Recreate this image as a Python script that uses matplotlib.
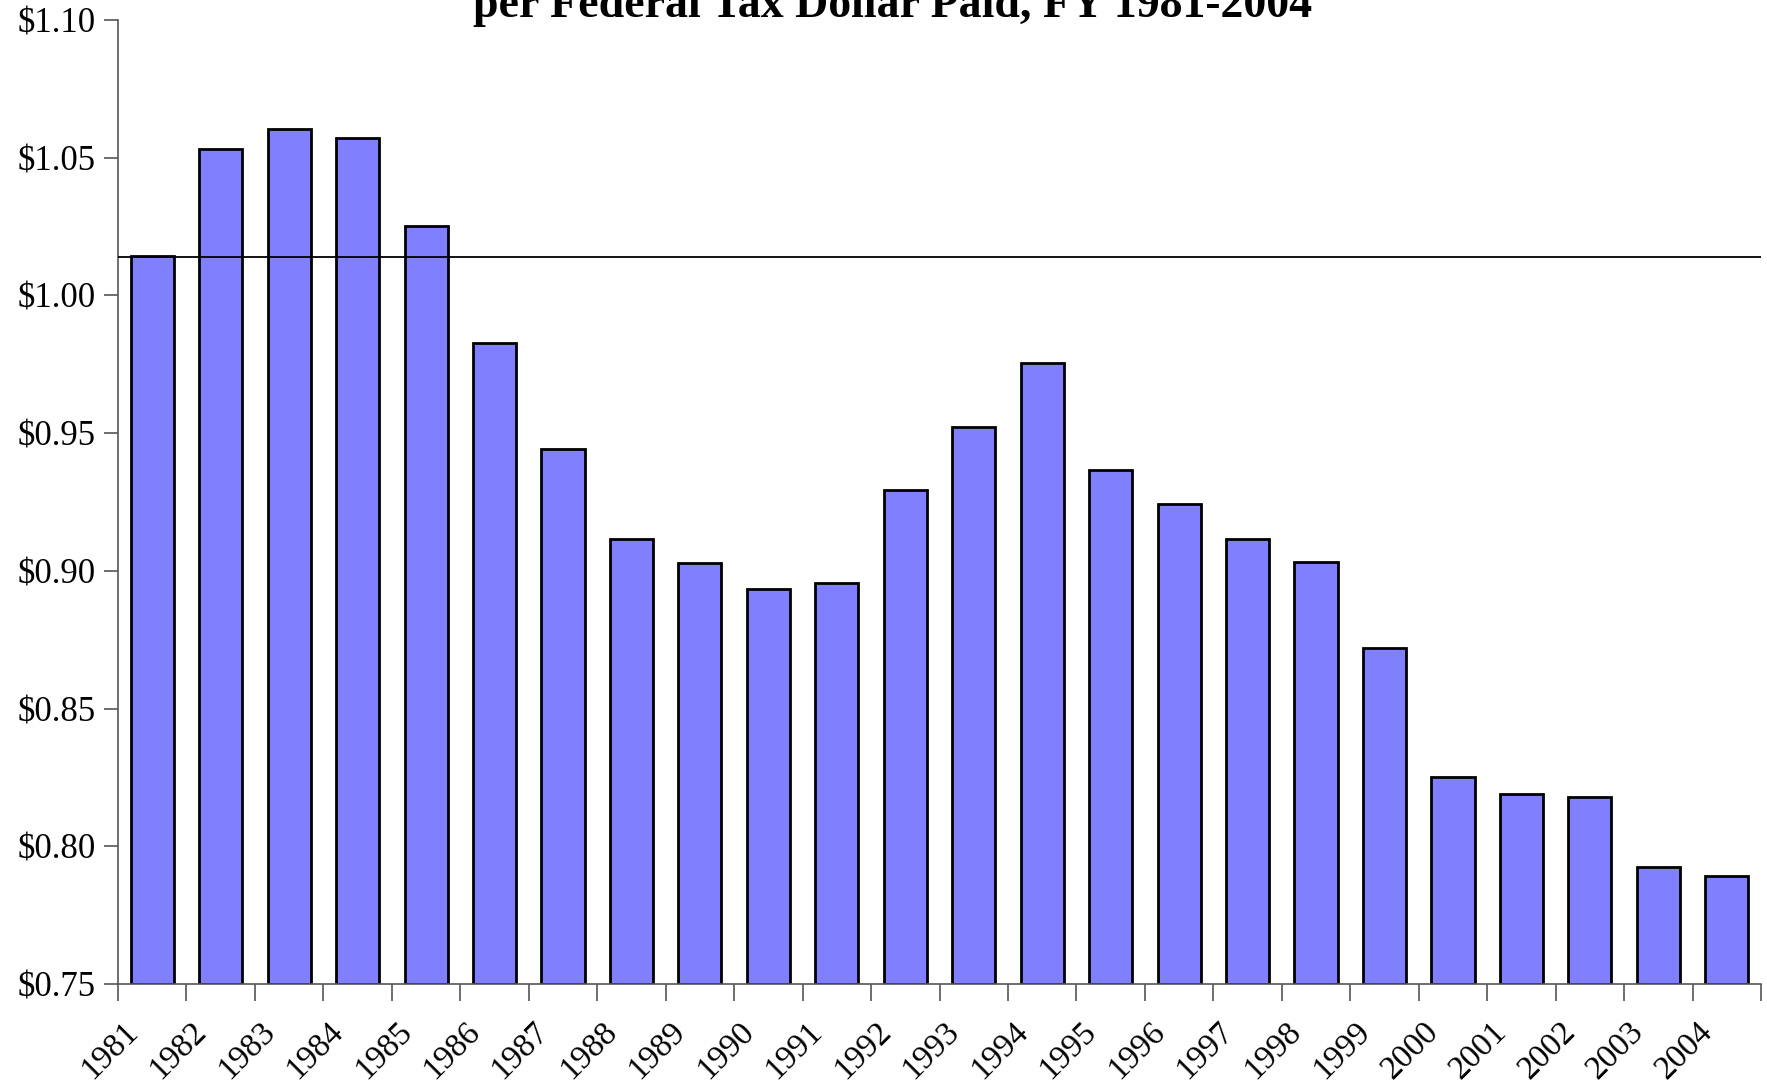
import matplotlib
matplotlib.use("Agg")
import matplotlib.pyplot as plt
import matplotlib.transforms as mtransforms
import numpy as np

years = ["1981", "1982", "1983", "1984", "1985", "1986", "1987", "1988", "1989", "1990",
         "1991", "1992", "1993", "1994", "1995", "1996", "1997", "1998", "1999", "2000",
         "2001", "2002", "2003", "2004"]
values = [1.0144, 1.0533, 1.0603, 1.0570, 1.0251, 0.9829, 0.9444, 0.9117, 0.9027, 0.8933,
          0.8957, 0.9293, 0.9522, 0.9756, 0.9367, 0.9244, 0.9117, 0.9031, 0.8720, 0.8253,
          0.8188, 0.8180, 0.7926, 0.7893]
ref_line = 1.014
yticks = [0.75, 0.80, 0.85, 0.90, 0.95, 1.00, 1.05, 1.10]
title = "per Federal Tax Dollar Paid, FY 1981-2004"

plt.rcParams['font.family'] = ['Liberation Serif', 'DejaVu Serif']

fig = plt.figure(figsize=(17.67, 10.87), dpi=100)
ax = fig.add_axes([0.0668, 0.0948, 0.9298, 0.8868])

x = np.arange(len(years))
ax.bar(x, [v - 0.75 for v in values], bottom=0.75, width=0.63, color='#8080FF',
       edgecolor='black', linewidth=2.0, zorder=2)
ax.axhline(ref_line, color='black', linewidth=1.3, zorder=3)

ax.set_xlim(-0.5, len(years) - 0.5)
ax.set_ylim(0.75, 1.10)
ax.set_yticks(yticks)
ax.set_yticklabels(["$%.2f" % t for t in yticks], fontsize=25)
ax.tick_params(axis='y', length=10, width=1.2, color='#555555', pad=6)

ax.set_xticks(x)
ax.set_xticklabels(years, fontsize=24, rotation=45, ha='right', rotation_mode='anchor')
ax.set_xticks(np.arange(-0.5, len(years)), minor=True)
ax.tick_params(axis='x', which='major', length=0, pad=23)
ax.tick_params(axis='x', which='minor', length=12, width=1.2, color='#555555')
offset = mtransforms.ScaledTranslation(-0.30, 0, fig.dpi_scale_trans)
for lab in ax.get_xticklabels():
    lab.set_transform(lab.get_transform() + offset)

for s in ['top', 'right']:
    ax.spines[s].set_visible(False)
for s in ['left', 'bottom']:
    ax.spines[s].set_color('#555555')
    ax.spines[s].set_linewidth(1.2)

fig.text(0.505, 1 - 17 / 1087, title, ha='center', va='baseline', fontsize=33,
         fontweight='bold')

fig.savefig("out.png", dpi=100)
